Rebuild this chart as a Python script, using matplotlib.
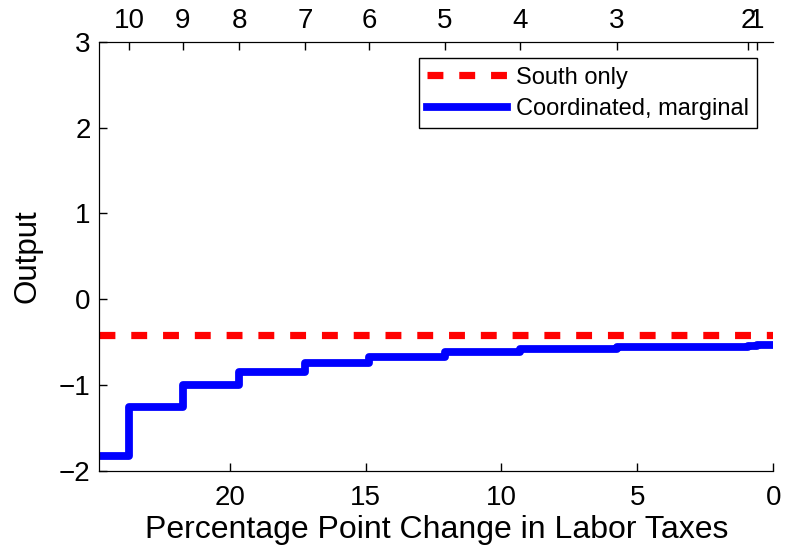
import matplotlib
matplotlib.use('Agg')
from matplotlib import pyplot as plt
import numpy as np

plt.rcParams['font.family'] = ['Liberation Sans', 'DejaVu Sans']

# x positions where the number of coordinating countries changes (top axis)
tax_cut = [23.69, 21.73, 19.64, 17.23, 14.87, 12.09, 9.31, 5.75, 0.94, 0.60]
top_labels = ['10', '9', '8', '7', '6', '5', '4', '3', '2', '1']

# output levels of the coordinated, marginal case (one per step)
coord_output = [-1.83, -1.26, -1.00, -0.85, -0.74, -0.67, -0.62, -0.58, -0.56, -0.545, -0.53]
south_only = -0.42

x_max = 24.8
bottom_ticks = [20, 15, 10, 5, 0]
y_ticks = [-2, -1, 0, 1, 2, 3]

fig = plt.figure(figsize=(7.86, 5.49), dpi=100)
ax = fig.add_axes([0.126, 0.1426, 0.858, 0.781])

xs = [x_max] + tax_cut + [0]
ys = coord_output + [coord_output[-1]]

ax.plot([x_max, 0], [south_only, south_only], color='red', lw=5.2,
        linestyle=(0, (2.2, 2.2)), label='South only')
ax.step(xs, ys, where='post', color='blue', lw=5.6, label='Coordinated, marginal')

ax.set_xlim(x_max, 0)
ax.set_ylim(-2, 3)
ax.set_xticks(bottom_ticks)
ax.set_yticks(y_ticks)
ax.set_yticklabels(['\u22122', '\u22121', '0', '1', '2', '3'])
ax.tick_params(direction='in', length=6, labelsize=20, width=1)
ax.tick_params(axis='x', pad=10)
ax.tick_params(axis='y', pad=6)
ax.spines['right'].set_visible(False)

ax.set_xlabel('Percentage Point Change in Labor Taxes', fontsize=23, labelpad=3)
ax.set_ylabel('Output', fontsize=22.5, labelpad=12)

top = ax.twiny()
top.set_xlim(ax.get_xlim())
top.set_xticks(tax_cut)
top.set_xticklabels(top_labels)
top.tick_params(direction='in', length=6, labelsize=20, pad=6, width=1)
top.spines['right'].set_visible(False)

leg = ax.legend(loc='upper right', fontsize=17, fancybox=False, framealpha=1,
                edgecolor='black', handlelength=3.4, handletextpad=0.35,
                borderaxespad=0.7, labelspacing=0.4, borderpad=0.35)
leg.get_frame().set_linewidth(1)

fig.savefig('out.png', dpi=100)
